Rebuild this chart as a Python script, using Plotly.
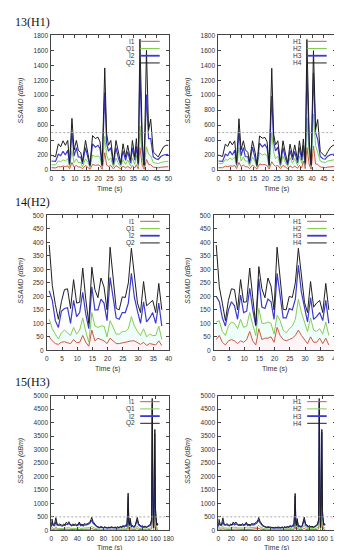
import plotly.graph_objects as go

W, H = 342, 550

# ---------------- data ----------------
THRESHOLD = 500

T13 = [0, 1.8, 3, 4, 5, 6, 7, 7.8, 8.8, 9.7, 10.7, 11.5, 12.6, 13.3, 14.6, 15.7, 16.5, 17.6, 18.8, 19.9,
       20.8, 21.7, 22.8, 23.6, 24.4, 25.4, 26.5, 27.6, 28.6, 29.6, 30.6, 31.7, 32.6, 33.8, 34.6, 35.6, 36.3,
       37.1, 37.8, 38.8, 39.6, 40.6, 41.5, 42.4, 43.5, 44.6, 45.6, 46.7, 47.9, 49, 50]
I1_13 = [30, 28, 45, 42, 52, 45, 55, 15, 100, 40, 60, 40, 38, 15, 60, 35, 10, 75, 62, 68, 58, 10, 230, 65, 48,
         58, 15, 58, 32, 15, 52, 28, 48, 20, 58, 28, 70, 15, 300, 60, 10, 140, 75, 70, 38, 32, 28, 36, 42, 45, 45]
Q1_13 = [70, 68, 120, 110, 135, 120, 150, 40, 260, 100, 150, 100, 100, 40, 150, 95, 30, 200, 175, 190, 165, 30,
         450, 200, 130, 160, 40, 160, 90, 40, 140, 75, 135, 55, 160, 75, 200, 40, 590, 160, 30, 310, 210, 190,
         100, 90, 85, 100, 110, 115, 115]
I2_13 = [120, 115, 210, 190, 250, 200, 265, 70, 506, 185, 300, 175, 170, 80, 300, 165, 50, 350, 305, 330, 285,
         50, 1035, 360, 250, 300, 70, 300, 160, 70, 255, 130, 245, 95, 295, 130, 315, 70, 1330, 300, 50, 1010,
         420, 420, 175, 150, 140, 180, 200, 205, 210]
Q2_13 = [200, 176, 350, 310, 390, 330, 395, 90, 690, 265, 395, 265, 230, 110, 395, 230, 66, 460, 420, 440, 375,
         66, 1365, 485, 330, 395, 97, 395, 220, 90, 350, 175, 330, 130, 395, 175, 420, 90, 1750, 395, 66, 1600,
         530, 680, 240, 200, 175, 240, 310, 330, 330]
H1_13 = [30, 30, 50, 45, 55, 50, 60, 18, 100, 45, 65, 45, 40, 18, 65, 38, 12, 80, 70, 72, 60, 12, 110, 70, 50,
         60, 18, 62, 35, 18, 55, 30, 52, 22, 60, 30, 120, 18, 300, 65, 12, 320, 80, 75, 40, 35, 30, 38, 45, 48, 48]
H2_13 = [90, 85, 140, 130, 160, 140, 175, 50, 300, 120, 175, 120, 120, 50, 175, 110, 35, 230, 200, 215, 190, 35,
         500, 240, 150, 185, 45, 185, 105, 45, 165, 90, 155, 60, 185, 90, 230, 45, 700, 190, 35, 750, 330, 240,
         120, 105, 100, 120, 130, 135, 140]
H3_13 = [120, 115, 210, 190, 250, 200, 265, 70, 520, 190, 300, 180, 175, 85, 305, 170, 50, 360, 310, 340, 290,
         55, 990, 380, 255, 305, 70, 300, 160, 70, 260, 135, 250, 95, 300, 130, 330, 70, 1330, 310, 50, 1300,
         500, 410, 180, 150, 145, 185, 205, 210, 210]
H4_13 = [200, 180, 345, 315, 385, 335, 390, 95, 685, 270, 390, 270, 235, 110, 390, 235, 70, 455, 425, 435, 380,
         70, 1360, 480, 335, 390, 100, 390, 225, 95, 345, 180, 335, 135, 390, 180, 415, 95, 1745, 390, 70, 1595,
         540, 675, 245, 205, 180, 245, 305, 330, 330]

T14 = [0.8, 1.8, 2.8, 3.8, 4.8, 5.8, 6.8, 7.8, 8.8, 9.8, 10.8, 11.8, 12.8, 13.8, 14.8, 15.8, 16.8, 17.8, 18.8,
       19.8, 20.8, 21.8, 22.8, 23.8, 24.8, 25.8, 26.8, 27.8, 28.8, 29.8, 30.8, 31.8, 32.8, 33.8, 34.8, 35.8,
       36.8, 37.8]
I1_14 = [50, 35, 25, 22, 30, 32, 28, 25, 40, 28, 30, 55, 30, 15, 75, 35, 45, 40, 35, 25, 45, 35, 25, 25, 28, 30,
         32, 35, 35, 28, 22, 30, 18, 25, 22, 20, 35, 18]
Q1_14 = [115, 80, 60, 42, 65, 75, 65, 55, 85, 60, 75, 120, 70, 30, 140, 90, 85, 90, 90, 50, 110, 85, 60, 60, 70,
         70, 80, 125, 90, 70, 55, 80, 50, 60, 55, 55, 90, 40]
I2_14 = [220, 185, 110, 85, 145, 155, 158, 100, 185, 125, 140, 215, 135, 80, 235, 150, 150, 190, 175, 110, 270,
         190, 120, 115, 140, 140, 175, 285, 195, 145, 100, 180, 105, 120, 140, 100, 175, 90]
Q2_14 = [390, 240, 170, 115, 180, 225, 228, 155, 262, 175, 178, 305, 190, 100, 308, 225, 195, 268, 235, 150, 382,
         270, 155, 150, 198, 196, 250, 378, 265, 175, 140, 255, 165, 175, 185, 140, 248, 150]
H1_14 = [40, 55, 30, 20, 35, 40, 35, 25, 35, 30, 40, 70, 35, 20, 80, 40, 45, 45, 50, 30, 85, 55, 40, 35, 40, 45,
         55, 75, 55, 40, 25, 50, 30, 30, 45, 25, 45, 20]
H2_14 = [105, 110, 70, 55, 90, 105, 100, 80, 115, 85, 90, 140, 95, 55, 155, 100, 100, 105, 100, 60, 130, 110, 75,
         65, 80, 90, 115, 190, 140, 100, 70, 120, 75, 70, 80, 60, 105, 55]
H3_14 = [200, 180, 120, 90, 150, 180, 165, 115, 205, 140, 145, 230, 150, 90, 265, 160, 155, 190, 180, 115, 285,
         200, 120, 120, 155, 150, 190, 315, 215, 160, 105, 195, 115, 125, 140, 110, 185, 100]
H4_14 = [390, 235, 175, 110, 185, 228, 225, 150, 262, 178, 180, 305, 195, 95, 310, 228, 195, 268, 238, 150, 382,
         272, 152, 150, 200, 196, 250, 378, 268, 178, 140, 255, 160, 175, 185, 140, 248, 150]

T15 = [0, 1, 3, 5, 7, 9, 11, 13, 15, 17, 19, 21, 23, 25, 27, 29, 31, 33, 35, 37, 39, 41, 43, 45, 47, 49, 51, 53,
       55, 57, 59, 61, 62, 64, 66, 68, 70, 72, 74, 76, 78, 80, 82, 84, 86, 88, 90, 92, 94, 96, 98, 100, 102,
       104, 106, 108, 110, 112, 114, 116, 117, 118, 119, 120, 121, 123, 125, 127, 129, 131, 132, 134, 136, 138,
       140, 142, 144, 146, 148, 150, 152, 154, 155, 156, 157, 158, 159, 160, 161, 162, 163, 164]
I1_15 = [20, 50, 30, 28, 55, 30, 28, 32, 28, 26, 30, 28, 40, 34, 40, 30, 28, 30, 28, 32, 28, 30, 40, 28, 30, 26,
         34, 30, 32, 38, 40, 52, 64, 44, 34, 28, 22, 18, 16, 20, 16, 14, 18, 16, 14, 16, 14, 18, 16, 14, 16, 16,
         18, 14, 22, 16, 24, 20, 28, 24, 70, 200, 40, 28, 60, 22, 24, 18, 28, 56, 64, 32, 28, 22, 24, 18, 22, 16,
         22, 24, 30, 52, 900, 200, 16, 160, 800, 100, 32, 28, 36, 32]
Q1_15 = [50, 120, 70, 65, 130, 75, 70, 80, 70, 65, 75, 70, 100, 85, 100, 75, 70, 75, 70, 80, 70, 75, 100, 70,
         75, 65, 85, 75, 80, 95, 100, 130, 160, 110, 85, 70, 55, 45, 40, 50, 40, 35, 45, 40, 35, 40, 35, 45, 40,
         35, 40, 40, 45, 35, 55, 40, 60, 50, 70, 60, 180, 500, 100, 70, 150, 55, 60, 45, 70, 140, 160, 80, 70,
         55, 60, 45, 55, 40, 55, 60, 75, 130, 2200, 500, 40, 400, 2000, 250, 80, 70, 90, 80]
I2_15 = [120, 300, 180, 170, 320, 190, 180, 200, 170, 160, 190, 180, 230, 210, 250, 190, 170, 190, 180, 200, 170,
         190, 250, 170, 190, 160, 210, 190, 200, 230, 250, 320, 380, 270, 210, 170, 130, 110, 95, 120, 100, 90,
         110, 95, 80, 100, 90, 110, 95, 90, 100, 95, 110, 90, 130, 100, 150, 120, 170, 150, 450, 1250, 250, 170,
         350, 130, 150, 110, 170, 330, 380, 200, 170, 130, 140, 110, 130, 100, 130, 150, 180, 300, 4700, 1200,
         90, 1000, 3600, 600, 200, 170, 220, 200]
Q2_15 = [150, 420, 200, 230, 470, 220, 210, 240, 200, 190, 230, 210, 300, 250, 320, 220, 200, 230, 210, 240, 200,
         220, 310, 200, 230, 190, 260, 220, 240, 280, 300, 400, 490, 330, 250, 200, 150, 130, 110, 140, 120, 100,
         130, 110, 90, 120, 100, 130, 110, 100, 120, 110, 130, 100, 150, 120, 180, 140, 200, 180, 600, 1380, 300,
         200, 450, 150, 180, 130, 200, 420, 480, 250, 200, 150, 170, 130, 160, 120, 150, 180, 220, 400, 4900,
         1500, 100, 1200, 3750, 800, 250, 200, 260, 230]
H1_15 = [25, 55, 35, 32, 60, 35, 32, 36, 32, 30, 34, 32, 45, 38, 45, 34, 32, 34, 32, 36, 32, 34, 45, 32, 34, 30,
         38, 34, 36, 42, 45, 58, 70, 48, 38, 32, 25, 20, 18, 22, 18, 16, 20, 18, 16, 18, 16, 20, 18, 16, 18, 18,
         20, 16, 25, 18, 27, 22, 30, 27, 80, 220, 45, 32, 65, 25, 27, 20, 30, 62, 70, 36, 32, 25, 27, 20, 25, 18,
         25, 27, 34, 58, 1000, 250, 18, 200, 850, 120, 36, 32, 40, 36]
H2_15 = [60, 140, 85, 80, 150, 90, 85, 95, 85, 80, 90, 85, 120, 100, 120, 90, 85, 90, 85, 95, 85, 90, 120, 85, 90,
         80, 100, 90, 95, 115, 120, 150, 190, 130, 100, 85, 65, 55, 50, 60, 50, 45, 55, 50, 45, 50, 45, 55, 50, 45,
         50, 48, 55, 45, 65, 50, 72, 60, 85, 72, 220, 560, 120, 85, 180, 65, 72, 55, 85, 165, 190, 95, 85, 65, 72,
         55, 65, 50, 65, 72, 90, 150, 2300, 600, 50, 450, 2100, 300, 95, 85, 105, 95]
H3_15 = [130, 290, 190, 180, 310, 200, 190, 210, 180, 170, 200, 190, 240, 200, 240, 200, 180, 190, 180, 210, 180,
         200, 250, 180, 190, 170, 210, 200, 200, 240, 260, 330, 390, 280, 200, 170, 140, 110, 100, 115, 105, 95,
         105, 100, 85, 100, 95, 110, 100, 90, 105, 95, 115, 95, 125, 105, 150, 125, 165, 155, 460, 1280, 260, 165,
         360, 135, 145, 115, 165, 340, 390, 195, 175, 125, 145, 115, 125, 105, 125, 150, 190, 310, 4750, 1100, 95,
         1050, 3650, 550, 210, 180, 215, 195]
H4_15 = [160, 410, 210, 220, 460, 230, 200, 250, 210, 180, 240, 200, 310, 240, 310, 230, 210, 220, 200, 250, 210,
         230, 300, 210, 220, 200, 250, 230, 230, 290, 310, 390, 480, 340, 240, 190, 160, 120, 115, 130, 125, 105,
         120, 115, 95, 115, 105, 125, 115, 95, 125, 105, 135, 105, 145, 125, 175, 145, 190, 185, 620, 1370, 310,
         190, 440, 160, 170, 140, 190, 430, 490, 240, 210, 140, 175, 135, 150, 125, 145, 175, 230, 390, 4900,
         1400, 110, 1300, 3750, 700, 240, 210, 250, 220]

TITLES = ["13(H1)", "14(H2)", "15(H3)"]
LABELS_L = ["I1", "Q1", "I2", "Q2"]
LABELS_R = ["H1", "H2", "H3", "H4"]
X_TITLE = "Time (s)"
Y_TITLE = "SSAMD (dBm)"

# ---------------- style ----------------
COLORS = ["#cc5a40", "#84cc52", "#3a3ad0", "#1e1e1e"]
WIDTHS = [1, 1, 1.2, 1]
LEG_WIDTHS = [1, 1, 1.8, 1]
FILL_RED = "rgba(255,150,175,0.10)"
FILL_GREEN = "rgba(90,240,215,0.09)"
SANS = "Liberation Sans, Arial, sans-serif"
SERIF = "Liberation Serif, Times New Roman, serif"
AXC = "#444444"
TXC = "#333333"

rows = [
    dict(t=T13, L=[I1_13, Q1_13, I2_13, Q2_13], R=[H1_13, H2_13, H3_13, H4_13], xr=[0, 50], xd=5,
         yr=[0, 1800], yd=200, top=23.7, bot=160, xl=[42.3, 162.3], xrr=[213.3, 333.3], thr=True, xt=19),
    dict(t=T14, L=[I1_14, Q1_14, I2_14, Q2_14], R=[H1_14, H2_14, H3_14, H4_14], xr=[0, 40], xd=5,
         yr=[0, 500], yd=50, top=206, bot=342.7, xl=[37.7, 162.3], xrr=[208.7, 333.3], thr=False, xt=19),
    dict(t=T15, L=[I1_15, Q1_15, I2_15, Q2_15], R=[H1_15, H2_15, H3_15, H4_15], xr=[0, 180], xd=20,
         yr=[0, 5000], yd=500, top=388.7, bot=525, xl=[42.3, 162.3], xrr=[213.3, 333.3], thr=True, xt=17.5),
]

fig = go.Figure()
layout = {}
annotations = []
shapes = []


def px_x(v):
    return v / W


def px_y(v):
    return 1 - v / H


idx = 0
for r, row in enumerate(rows):
    annotations.append(dict(text=TITLES[r], x=px_x(3), y=px_y(row["top"] - 13.5), xref="paper", yref="paper",
                            xanchor="left", yanchor="middle", showarrow=False,
                            font=dict(family=SERIF, size=12, color="#111")))
    for side in range(2):
        idx += 1
        xa = "x" if idx == 1 else f"x{idx}"
        ya = "y" if idx == 1 else f"y{idx}"
        xr_px = row["xl"] if side == 0 else row["xrr"]
        series = row["L"] if side == 0 else row["R"]
        labels = LABELS_L if side == 0 else LABELS_R

        # faint bands: pink under red, cyan between red and green
        fig.add_trace(go.Scatter(x=row["t"], y=series[0], mode="lines", line=dict(width=0),
                                 fill="tozeroy", fillcolor=FILL_RED, xaxis=xa, yaxis=ya,
                                 showlegend=False, hoverinfo="skip"))
        fig.add_trace(go.Scatter(x=row["t"], y=series[1], mode="lines", line=dict(width=0),
                                 fill="tonexty", fillcolor=FILL_GREEN, xaxis=xa, yaxis=ya,
                                 showlegend=False, hoverinfo="skip"))
        for k in range(4):
            fig.add_trace(go.Scatter(x=row["t"], y=series[k], mode="lines",
                                     line=dict(color=COLORS[k], width=WIDTHS[k]),
                                     xaxis=xa, yaxis=ya, showlegend=False, hoverinfo="skip"))

        common = dict(showline=True, linecolor=AXC, linewidth=1, mirror="allticks", ticks="inside",
                      ticklen=3, tickcolor=AXC, tickwidth=1, showgrid=False, zeroline=False,
                      tickfont=dict(family=SANS, size=6.5, color=TXC))
        layout["xaxis" if idx == 1 else f"xaxis{idx}"] = dict(
            domain=[px_x(xr_px[0]), px_x(xr_px[1])], range=row["xr"], dtick=row["xd"], tick0=0,
            anchor=ya, ticklabelstandoff=2, tickangle=0, **common)
        layout["yaxis" if idx == 1 else f"yaxis{idx}"] = dict(
            domain=[px_y(row["bot"]), px_y(row["top"])], range=row["yr"], dtick=row["yd"], tick0=0,
            anchor=xa, ticklabelstandoff=1, **common)

        if row["thr"]:
            shapes.append(dict(type="line", xref=f"{xa} domain", yref=ya, x0=0, x1=1,
                               y0=THRESHOLD, y1=THRESHOLD,
                               line=dict(color="#aaaaaa", width=1, dash="2px,2px")))

        cx = (xr_px[0] + xr_px[1]) / 2
        annotations.append(dict(text=X_TITLE, x=px_x(cx), y=px_y(row["bot"] + row["xt"]), xref="paper",
                                yref="paper", xanchor="center", yanchor="middle", showarrow=False,
                                borderpad=0, font=dict(family=SANS, size=7, color=TXC)))
        annotations.append(dict(text=f"<i>{Y_TITLE}</i>", x=px_x(11 + 171 * side),
                                y=px_y((row["top"] + row["bot"]) / 2 - 2), xref="paper", yref="paper",
                                xanchor="center", yanchor="middle", textangle=-90, showarrow=False,
                                font=dict(family=SANS, size=7, color=TXC)))

        for k in range(4):
            yy = row["top"] + 6 + 7.3 * k
            annotations.append(dict(text=labels[k], x=px_x(xr_px[1] - 32), y=px_y(yy), xref="paper",
                                    yref="paper", xanchor="right", yanchor="middle", showarrow=False,
                                    font=dict(family=SANS, size=6.5, color=TXC)))
            shapes.append(dict(type="line", xref="paper", yref="paper", x0=px_x(xr_px[1] - 29),
                               x1=px_x(xr_px[1] - 9), y0=px_y(yy), y1=px_y(yy),
                               line=dict(color=COLORS[k], width=LEG_WIDTHS[k])))

fig.update_layout(width=W, height=H, margin=dict(l=0, r=0, t=0, b=0), paper_bgcolor="white",
                  plot_bgcolor="white", showlegend=False, annotations=annotations, shapes=shapes, **layout)
fig.write_html("out.html")
